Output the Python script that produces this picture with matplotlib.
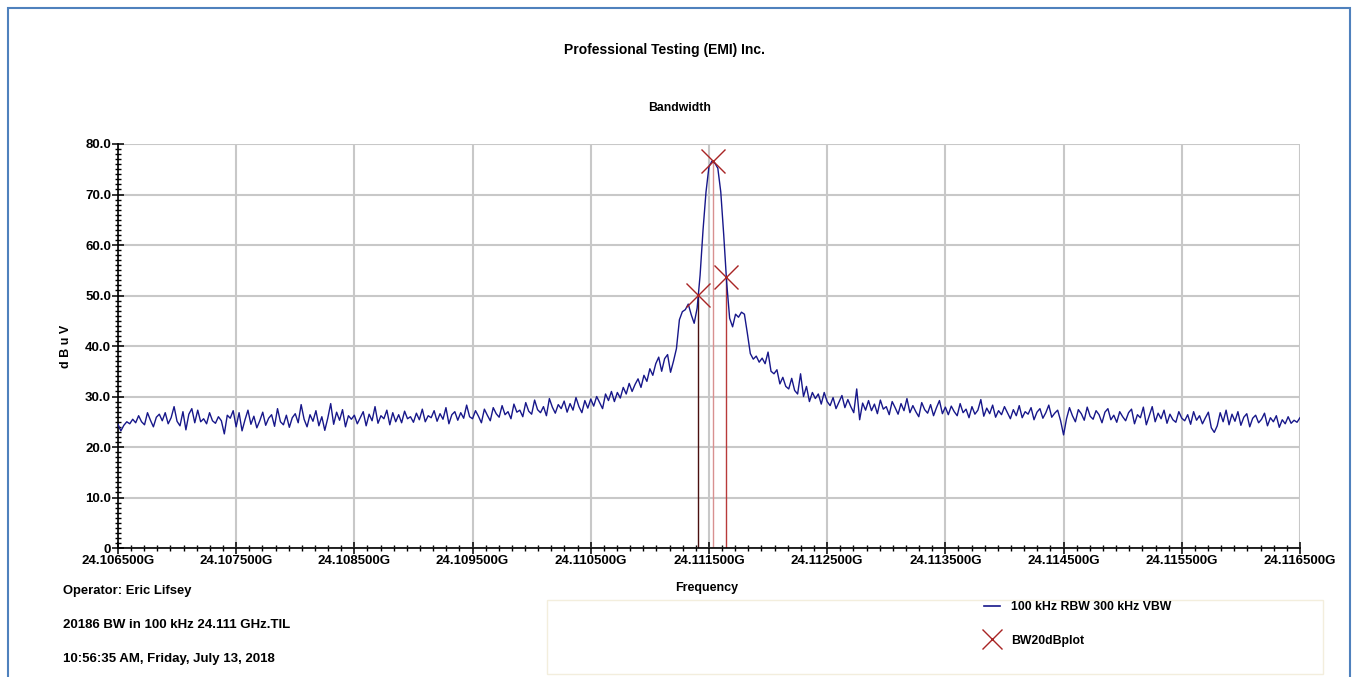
import numpy as np
import matplotlib
matplotlib.use('Agg')
import matplotlib.pyplot as plt
from matplotlib.patches import Rectangle
from matplotlib.lines import Line2D
from matplotlib.ticker import MultipleLocator, AutoMinorLocator, FuncFormatter

plt.rcParams['font.family'] = ['Liberation Sans Narrow', 'Liberation Sans', 'DejaVu Sans']

# sweep: 24.1065 GHz .. 24.1165 GHz, one reading every 25 kHz
f_start = 24.1065
f_stop = 24.1165
level = [
    # 0 .. 0.975 MHz
    24.5, 23.2, 24.3, 25.0, 24.6, 25.5, 24.8, 26.2, 25.0, 24.4, 26.8, 25.3, 24.0, 25.9, 26.5, 25.2, 26.8, 24.6, 25.8, 28.0,
    25.1, 24.2, 27.0, 23.4, 26.5, 27.6, 24.8, 27.3, 25.0, 25.6, 24.6, 26.8, 25.2, 24.7, 26.0, 25.2, 22.6, 26.3, 25.7, 27.2,
    # 1.0 .. 1.975
    24.0, 26.8, 23.2, 25.4, 27.3, 24.5, 26.1, 23.8, 25.2, 26.9, 24.3, 25.7, 26.4, 24.1, 27.6, 25.0, 24.4, 26.3, 23.9, 25.8,
    26.6, 24.8, 28.4, 25.5, 24.0, 26.4, 25.1, 27.2, 24.2, 26.0, 23.3, 25.7, 28.6, 24.5, 26.9, 25.3, 27.4, 24.0, 26.2, 25.5,
    # 2.0 .. 2.975
    26.3, 24.6, 25.8, 27.0, 24.2, 26.5, 25.2, 28.0, 24.7, 26.2, 25.6, 27.3, 24.4, 26.8, 25.0, 26.4, 24.8, 27.1, 25.6, 26.0,
    24.9, 26.7, 25.4, 27.5, 25.0, 26.2, 25.8, 27.2, 25.1, 26.6, 25.5, 27.8, 24.6, 26.4, 27.0, 25.3, 26.8, 25.7, 28.3, 26.0,
    # 3.0 .. 3.975
    25.6, 27.2, 26.1, 24.8, 27.5, 26.3, 25.2, 27.8, 26.6, 25.9, 28.2, 26.4, 27.0, 25.6, 28.5, 26.9, 27.3, 26.0, 28.8, 27.1,
    26.5, 29.3, 27.4, 26.8, 28.0, 26.2, 29.6, 27.9, 26.7, 28.4, 27.6, 29.1, 26.9, 28.6, 27.3, 29.8, 28.0, 26.8, 29.2, 27.7,
    # 4.0 .. 4.7
    29.5, 28.1, 30.0, 28.8, 27.6, 30.5, 29.2, 31.0, 29.0, 30.8, 29.7, 31.8, 30.5, 32.6, 31.0, 32.4, 33.5, 31.8, 34.2, 33.0,
    35.5, 34.2, 36.5, 37.8, 35.0, 37.5, 38.3, 34.8, 37.0,
    # carrier
    39.5, 45.2, 46.8, 47.2, 48.3, 46.2, 44.5, 47.5, 54.0, 63.0, 70.5, 75.5,
    76.6, 76.2, 75.2, 70.5, 62.0, 52.5, 45.5, 43.8, 46.3, 45.7, 46.7, 46.3, 42.5, 38.5, 37.4, 38.0, 36.8, 37.6, 36.5, 38.8,
    # 5.525 .. 6.0
    35.0, 34.5, 35.3, 32.5, 33.8, 32.0, 31.5, 33.6, 31.2, 30.5, 34.5, 30.0, 32.0, 29.0, 30.8, 29.6, 30.5, 28.5, 30.8, 29.0,
    # 6.025 .. 7.0
    28.2, 29.8, 27.6, 28.9, 30.2, 27.8, 29.4, 28.0, 26.8, 31.5, 25.4, 28.7, 27.3, 29.2, 27.2, 28.5, 26.6, 29.3, 27.5, 28.0,
    26.4, 29.0, 27.8, 26.5, 28.6, 27.2, 29.6, 26.8, 28.2, 27.0, 26.0, 28.8, 27.4, 26.7, 28.4, 26.2, 27.8, 29.2, 26.6, 27.9,
    # 7.025 .. 8.0
    26.4, 28.1, 27.0, 26.2, 28.6, 26.8, 27.5, 25.8, 28.0, 26.5, 27.3, 29.4, 26.1, 27.7, 26.6, 28.3, 25.9, 27.2, 26.4, 28.0,
    26.8, 25.6, 27.4, 26.2, 28.2, 25.8, 27.0, 26.5, 27.8, 25.4, 26.9, 27.6, 25.7, 26.8, 28.3, 25.9, 26.7, 27.3, 25.2, 22.4,
    # 8.025 .. 9.0
    25.6, 27.8, 26.2, 25.0, 27.4, 26.6, 25.3, 27.9, 26.1, 25.5, 27.2, 26.4, 24.8, 26.9, 27.6, 25.4, 26.3, 24.9, 27.0, 26.0,
    25.2, 26.8, 27.5, 24.6, 26.4, 25.8, 27.9, 24.4, 26.2, 28.0, 25.0, 26.7, 25.6, 27.3, 24.7, 26.5, 25.4, 24.9, 27.0, 25.7,
    # 9.025 .. 10.0
    25.2, 26.4, 24.5, 27.0, 25.3, 26.2, 24.6, 25.8, 26.9, 23.8, 22.9, 24.2, 26.8, 25.0, 27.3, 24.4, 26.5, 25.1, 27.0, 24.3,
    25.9, 26.6, 24.0, 25.7, 26.3, 24.8, 25.5, 26.7, 24.2, 25.8, 25.0, 26.2, 23.9, 25.4, 24.6, 26.0, 24.7, 25.3, 24.9, 25.8,
]
freq = np.linspace(f_start, f_stop, len(level))

# 20 dB bandwidth markers: lower edge, peak, upper edge
bw_freq = [24.111409, 24.111534, 24.111645]
bw_level = [50.1, 76.6, 53.7]
bw_line_colors = ['#4a1010', '#d89090', '#b83a3a']

xticks = np.arange(24.1065, 24.11651, 0.001)

fig = plt.figure(figsize=(13.54, 6.77), dpi=100)
ax = fig.add_axes([0.0871, 0.1905, 0.8730, 0.5968])

ax.plot(freq, level, color='#17178a', linewidth=1.0, zorder=3)
for fx, fy, c in zip(bw_freq, bw_level, bw_line_colors):
    ax.plot([fx, fx], [0, fy], color=c, linewidth=1.0, zorder=2)
ax.plot(bw_freq, bw_level, linestyle='none', marker='x', markersize=17,
        markeredgewidth=1.0, color='#a82424', zorder=4)

ax.set_xlim(f_start, f_stop)
ax.set_ylim(0, 80)
ax.set_xticks(xticks)
ax.xaxis.set_major_formatter(FuncFormatter(lambda v, p: f'{v:.6f}G'))
ax.xaxis.set_minor_locator(AutoMinorLocator(9))
ax.yaxis.set_major_locator(MultipleLocator(10))
ax.yaxis.set_minor_locator(MultipleLocator(1))
ax.yaxis.set_major_formatter(FuncFormatter(lambda v, p: '0' if v == 0 else f'{v:.1f}'))

ax.grid(True, which='major', color='#c8c8c8', linewidth=1.5, zorder=0)
ax.set_axisbelow(True)
for s in ['top', 'right']:
    ax.spines[s].set_visible(False)
ax.spines['left'].set_linewidth(1.2)
ax.spines['bottom'].set_linewidth(1.2)
ax.tick_params(axis='both', which='major', direction='inout', length=8, width=1.1,
               labelsize=9.5, pad=1)
ax.tick_params(axis='both', which='minor', direction='inout', length=5, width=1.0)
for lab in ax.get_xticklabels() + ax.get_yticklabels():
    lab.set_fontweight('bold')

ax.set_ylabel('d B u V', fontsize=9, fontweight='bold')
ax.yaxis.set_label_coords(-0.039, 0.5)
fig.text(0.522, 0.132, 'Frequency', ha='center', va='center', fontsize=9, fontweight='bold')

fig.text(0.491, 0.926, 'Professional Testing (EMI) Inc.', ha='center', va='center',
         fontsize=10, fontweight='bold')
fig.text(0.502, 0.840, 'Bandwidth', ha='center', va='center', fontsize=8.8, fontweight='bold')

fig.text(0.0465, 0.127, 'Operator: Eric Lifsey', ha='left', va='center', fontsize=9.4, fontweight='bold')
fig.text(0.0465, 0.077, '20186 BW in 100 kHz 24.111 GHz.TIL', ha='left', va='center', fontsize=9.5, fontweight='bold')
fig.text(0.0465, 0.027, '10:56:35 AM, Friday, July 13, 2018', ha='left', va='center', fontsize=9.5, fontweight='bold')

# legend area
fig.patches.append(Rectangle((0.404, 0.005), 0.573, 0.108, transform=fig.transFigure,
                             facecolor='none', edgecolor='#f3eedd', linewidth=1.0))
handles = [Line2D([], [], color='#17178a', linewidth=1.2),
           Line2D([], [], linestyle='none', marker='x', markersize=15,
                  markeredgewidth=1.0, color='#a82424')]
fig.legend(handles, ['100 kHz RBW 300 kHz VBW', 'BW20dBplot'], loc='upper left',
           bbox_to_anchor=(0.7185, 0.128), frameon=False,
           prop={'weight': 'bold', 'size': 8.8}, handlelength=1.3, handletextpad=0.9,
           labelspacing=1.75)

# blue frame round the page
fig.patches.append(Rectangle((0.0062, -0.05), 0.9905, 1.038, transform=fig.transFigure,
                             facecolor='none', edgecolor='#4f81bd', linewidth=1.5))

fig.savefig('out.png', dpi=100)
